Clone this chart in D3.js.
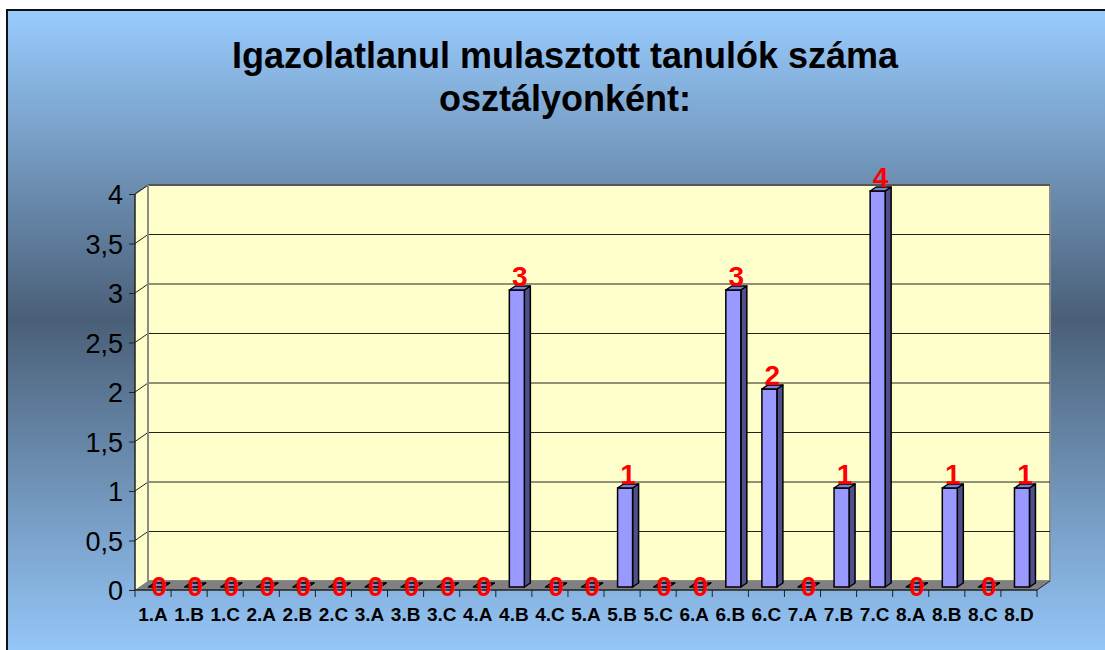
<!DOCTYPE html>
<html>
<head>
<meta charset="utf-8">
<script src="https://cdn.jsdelivr.net/npm/d3@7"></script>
<style>
  html, body { margin: 0; padding: 0; background: #fff; }
  svg { display: block; }
  text { font-family: "Liberation Sans", Arial, sans-serif; }
</style>
</head>
<body>
<svg id="chart" width="1105" height="650"></svg>
<script>
// Classes and number of students with unexcused absences
const classes = ["1.A","1.B","1.C","2.A","2.B","2.C","3.A","3.B","3.C","4.A","4.B","4.C",
                 "5.A","5.B","5.C","6.A","6.B","6.C","7.A","7.B","7.C","8.A","8.B","8.C","8.D"];
const students = [0,0,0,0,0,0,0,0,0,0,3,0,0,1,0,0,3,2,0,1,4,0,1,0,1];
const yTicks = [0,0.5,1,1.5,2,2.5,3,3.5,4];
const titleLines = ["Igazolatlanul mulasztott tanulók száma", "osztályonként:"];

const svg = d3.select("#chart");

// 3D frame geometry
const left = 135, right = 1037, floorY = 590, topY = 194;
const depthX = 13, depthY = -9;         // back wall offset
const barDX = 6, barDY = -4;            // bar depth
const barShiftX = 3, barShiftY = -3;    // bar position inside the floor depth
const barW = 15;

const x = d3.scaleBand().domain(classes).range([left, right]);
const y = d3.scaleLinear().domain([0, 4]).range([floorY, topY]);

// background gradient
const defs = svg.append("defs");
const grad = defs.append("linearGradient").attr("id", "bg")
  .attr("x1", 0).attr("y1", 0).attr("x2", 0).attr("y2", 1);
grad.append("stop").attr("offset", "0%").attr("stop-color", "#99CCFF");
grad.append("stop").attr("offset", "47%").attr("stop-color", "#4A5F77");
grad.append("stop").attr("offset", "100%").attr("stop-color", "#99CCFF");

svg.append("rect").attr("x", 6).attr("y", 9).attr("width", 1105).attr("height", 660)
  .attr("fill", "url(#bg)");
svg.append("path").attr("d", "M7,650 V10 H1105")
  .attr("fill", "none").attr("stroke", "#111").attr("stroke-width", 2);

// title
svg.append("text")
  .attr("x", 565).attr("y", 68)
  .attr("text-anchor", "middle")
  .attr("font-size", 36).attr("font-weight", "bold").attr("fill", "#000")
  .selectAll("tspan").data(titleLines).join("tspan")
  .attr("x", 565).attr("dy", (d, i) => i === 0 ? 0 : 43)
  .text(d => d);

// side wall
svg.append("path")
  .attr("d", `M${left},${floorY} V${topY} L${left + depthX},${topY + depthY} V${floorY + depthY} Z`)
  .attr("fill", "#FFFFCC");
svg.append("line")
  .attr("x1", left).attr("y1", topY).attr("x2", left + depthX).attr("y2", topY + depthY)
  .attr("stroke", "#808080").attr("stroke-width", 1.5);

// back wall
svg.append("rect")
  .attr("x", left + depthX).attr("y", topY + depthY)
  .attr("width", right - left).attr("height", floorY - topY)
  .attr("fill", "#FFFFCC").attr("stroke", "#8C8C8C").attr("stroke-width", 2);

// floor
svg.append("path")
  .attr("d", `M${left},${floorY} H${right} L${right + depthX},${floorY + depthY} H${left + depthX} Z`)
  .attr("fill", "#808080");

// gridlines on back wall and side wall
const grid = svg.append("g");
grid.selectAll("line.back").data(yTicks.filter(t => t > 0)).join("line")
  .attr("class", "back")
  .attr("x1", left + depthX).attr("x2", right + depthX)
  .attr("y1", d => y(d) + depthY).attr("y2", d => y(d) + depthY)
  .attr("stroke", "#222").attr("stroke-width", 1);
grid.selectAll("line.side").data(yTicks.filter(t => t > 0)).join("line")
  .attr("class", "side")
  .attr("x1", left).attr("x2", left + depthX)
  .attr("y1", d => y(d)).attr("y2", d => y(d) + depthY)
  .attr("stroke", "#222").attr("stroke-width", 1);
// re-stroke wall left edge
svg.append("line")
  .attr("x1", left + depthX).attr("x2", left + depthX)
  .attr("y1", topY + depthY).attr("y2", floorY + depthY)
  .attr("stroke", "#8C8C8C").attr("stroke-width", 2);

// y axis
const fmt = v => String(v).replace(".", ",");
const yAxis = svg.append("g").attr("transform", `translate(${left},0)`)
  .call(d3.axisLeft(y).tickValues(yTicks).tickFormat(fmt).tickSize(6).tickPadding(6));
yAxis.select(".domain").attr("stroke", "#222").attr("stroke-width", 1.5).attr("d", `M0,${topY}V${floorY}`);
yAxis.selectAll(".tick line").attr("stroke", "#222");
yAxis.selectAll(".tick text")
  .attr("font-family", "'Liberation Sans', Arial, sans-serif")
  .attr("font-size", 27).attr("fill", "#000").attr("dy", "0.36em");

// x axis
const xAxis = svg.append("g").attr("transform", `translate(0,${floorY})`)
  .call(d3.axisBottom(x).tickSize(0).tickPadding(18));
xAxis.select(".domain").attr("stroke", "#222").attr("stroke-width", 1.5).attr("d", `M${left},0H${right}`);
xAxis.selectAll(".tick text")
  .attr("font-family", "'Liberation Sans', Arial, sans-serif")
  .attr("font-size", 19).attr("font-weight", "bold").attr("fill", "#000");
// tick marks between classes
const bounds = classes.map(c => x(c)).concat([right]);
svg.append("g").selectAll("line").data(bounds).join("line")
  .attr("x1", d => d).attr("x2", d => d)
  .attr("y1", floorY).attr("y2", floorY + 7)
  .attr("stroke", "#222").attr("stroke-width", 1);
svg.append("line")
  .attr("x1", right).attr("y1", floorY).attr("x2", right + depthX).attr("y2", floorY + depthY)
  .attr("stroke", "#222").attr("stroke-width", 1);

// bars
const data = classes.map((c, i) => ({ c, v: students[i] }));
const bars = svg.append("g").selectAll("g").data(data).join("g");
const bx = d => x(d.c) + x.bandwidth() / 2 - barW / 2 + barShiftX;
const by = d => y(d.v) + barShiftY;
const bb = floorY + barShiftY;

bars.append("path") // side
  .attr("d", d => `M${bx(d) + barW},${by(d)} L${bx(d) + barW + barDX},${by(d) + barDY} V${bb + barDY} L${bx(d) + barW},${bb} Z`)
  .attr("fill", "#4F4F8C").attr("stroke", "#000").attr("stroke-width", 1.5).attr("stroke-linejoin", "round");
bars.append("rect") // front
  .attr("x", bx).attr("y", by).attr("width", barW).attr("height", d => bb - by(d))
  .attr("fill", "#9999FF").attr("stroke", "#000").attr("stroke-width", 1.5);
bars.append("path") // top
  .attr("d", d => `M${bx(d)},${by(d)} L${bx(d) + barDX},${by(d) + barDY} H${bx(d) + barW + barDX} L${bx(d) + barW},${by(d)} Z`)
  .attr("fill", "#7F7FD6").attr("stroke", "#000").attr("stroke-width", 1.5).attr("stroke-linejoin", "round");

// value labels
bars.append("text")
  .attr("x", d => bx(d) + (barW + barDX) / 2)
  .attr("y", d => d.v > 0 ? by(d) + barDY : floorY + 6)
  .attr("text-anchor", "middle")
  .attr("font-size", 28).attr("font-weight", "bold").attr("fill", "#FF0000")
  .text(d => d.v);
</script>
</body>
</html>
